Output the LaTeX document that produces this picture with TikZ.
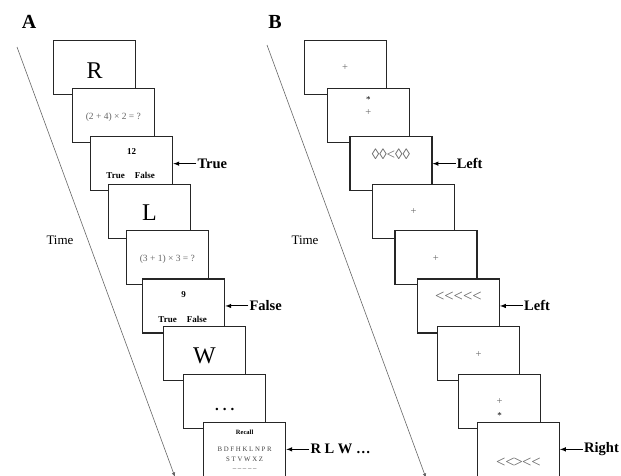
\documentclass[tikz,border=0pt]{standalone}
\usepackage{fontspec}
\setmainfont{Liberation Serif}
\usetikzlibrary{arrows}

\begin{document}
\begin{tikzpicture}[x=1pt,y=-1pt,
		box/.style={draw=black!85,line width=1.3pt,fill=white,anchor=north west,minimum width=82pt,minimum height=54pt,inner sep=0pt},
		antwort/.style={font=\fontsize{14.5}{16}\selectfont\bfseries,anchor=west,inner sep=1pt},
		pfeil/.style={-latex,line width=1pt},
		grau/.style={text=black!60,inner sep=0pt},
		gross/.style={font=\fontsize{24}{24}\selectfont,inner sep=0pt},
		klein/.style={font=\fontsize{9}{9}\selectfont\bfseries,inner sep=0pt}]
		    \useasboundingbox (0,0) rectangle (621,475);
		%Ueberschriften
		    \node[font=\fontsize{20}{20}\selectfont\bfseries] (titA) at (29,22) {A};
		    \node[font=\fontsize{20}{20}\selectfont\bfseries] (titB) at (275,22) {B};
		%Zeitachsen
		    \coordinate (zA0) at (17,47);
		    \coordinate (zA1) at (175,477);
		    \coordinate (zB0) at (267,45);
		    \coordinate (zB1) at (426,478);
		    \draw[black!60,line width=0.6pt,-latex] (zA0) -- (zA1);
		    \draw[black!60,line width=0.6pt,-latex] (zB0) -- (zB1);
		    \node[font=\fontsize{13}{13}\selectfont] (zeitA) at (60,240) {Time};
		    \node[font=\fontsize{13}{13}\selectfont] (zeitB) at (305,240) {Time};
		%Karten
		    \foreach \n/\x/\y in {a1/53/40,a2/71.7/88,a3/90/136,a4/107.7/183.5,a5/125.7/230,a6/142/278.3,a7/162.7/326,a8/183/374,a9/203/421.7,
		      b1/303.5/40,b2/326.7/88,b3/349.3/136,b4/372/183.5,b5/394.3/230,b6/416.7/278.3,b7/437/326,b8/458/374,b9/476.7/421.7}
		      \node[box] (\n) at (\x,\y) {};
		%Inhalte A
		    \node[gross,yshift=-2.5pt] (ia1) at (a1.center) {R};
		    \node[grau,font=\fontsize{9.5}{10}\selectfont,yshift=-2pt] (ia2) at (a2.center) {(2 + 4) × 2 = ?};
		    \node[klein,yshift=12.3pt] (ia3) at (a3.center) {12};
		    \node[klein,yshift=-11.7pt,xshift=-1pt] (ja3) at (a3.center) {True\hspace{10pt}False};
		    \node[gross,yshift=-1pt] (ia4) at (a4.center) {L};
		    \node[grau,font=\fontsize{9.5}{10}\selectfont,yshift=-1.5pt] (ia5) at (a5.center) {(3 + 1) × 3 = ?};
		    \node[klein,yshift=11.3pt] (ia6) at (a6.center) {9};
		    \node[klein,yshift=-13pt,xshift=-1pt] (ja6) at (a6.center) {True\hspace{10pt}False};
		    \node[gross,yshift=-2pt] (ia7) at (a7.center) {W};
		    \node[font=\fontsize{15}{15}\selectfont\bfseries,inner sep=0pt,yshift=-8pt] (ia8) at (a8.center) {.\hspace{4pt}.\hspace{4pt}.};
		    \node[font=\fontsize{6.5}{7}\selectfont\bfseries,inner sep=0pt,yshift=17pt] (ia9) at (a9.center) {Recall};
		    \node[grau,text=black!75,font=\fontsize{6.8}{7}\selectfont] (ja9) at (a9.center) {B D F H K L N P R};
		    \node[grau,text=black!75,font=\fontsize{6.8}{7}\selectfont,yshift=-9.6pt] (ka9) at (a9.center) {S T V W X Z};
		    \node[grau,text=black!75,font=\fontsize{6.8}{7}\selectfont,yshift=-20pt] (la9) at (a9.center) {\_ \_ \_ \_ \_};
		%Inhalte B
		    \node[grau,font=\fontsize{10.5}{10}\selectfont] (ib1) at (b1.center) {+};
		    \node[inner sep=0pt,font=\fontsize{9}{9}\selectfont,yshift=16pt] (ib2) at (b2.center) {*};
		    \node[grau,font=\fontsize{10.5}{10}\selectfont,yshift=3pt] (jb2) at (b2.center) {+};
		    \node[grau,font=\fontsize{15}{15}\selectfont,yshift=9.7pt] (ib3) at (b3.center) {◊◊<◊◊};
		    \node[grau,font=\fontsize{10.5}{10}\selectfont] (ib4) at (b4.center) {+};
		    \node[grau,font=\fontsize{10.5}{10}\selectfont,yshift=-1pt] (ib5) at (b5.center) {+};
		    \node[grau,font=\fontsize{16.5}{16.5}\selectfont,yshift=9.6pt] (ib6) at (b6.center) {<\kern0pt<\kern0pt<\kern0pt<\kern0pt<};
		    \node[grau,font=\fontsize{10.5}{10}\selectfont,yshift=-1pt] (ib7) at (b7.center) {+};
		    \node[grau,font=\fontsize{10.5}{10}\selectfont] (ib8) at (b8.center) {+};
		    \node[inner sep=0pt,font=\fontsize{9}{9}\selectfont,yshift=-14pt] (jb8) at (b8.center) {*};
		    \node[grau,font=\fontsize{16.5}{16.5}\selectfont,yshift=-13pt] (ib9) at (b9.center) {<\kern0pt<\kern-1pt>\kern-1pt<\kern0pt<};
		%Antworten
		    \foreach \n/\ant in {a3/True,a6/False,a9/{R L W \dots},b3/Left,b6/Left,b9/Right}{
		      \node[antwort] (l\n) at ([xshift=23pt]\n.east) {\ant};
		      \draw[pfeil] (l\n) -- (\n.east);
		    }
	\end{tikzpicture}
\end{document}
